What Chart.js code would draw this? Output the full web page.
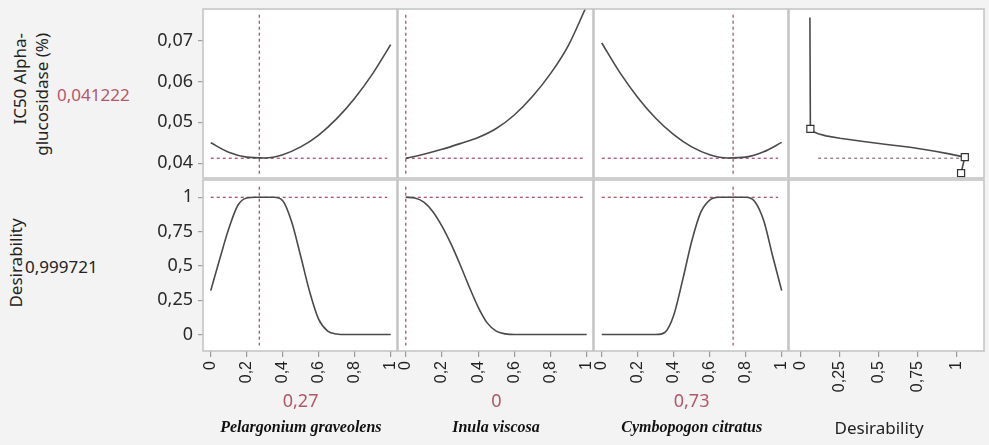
<!DOCTYPE html>
<html>
<head>
<meta charset="utf-8">
<script src="https://cdn.jsdelivr.net/npm/chart.js@4.4.0/dist/chart.umd.min.js"></script>
<style>
    html, body { margin: 0; padding: 0; }
    body {
        width: 989px; height: 445px; position: relative; overflow: hidden;
        background: #f3f3f3; font-family: 'Noto Sans', 'Open Sans', sans-serif; color: #222;
    }
    canvas { position: absolute; }
    .lbl { position: absolute; white-space: nowrap; }
    .rot { transform: rotate(-90deg); transform-origin: 50% 50%; }
    .val { color: #b3576a; }
    .factor { font-family: 'Liberation Serif', serif; font-weight: bold; font-style: italic; font-size: 16px; color: #111; }
</style>
</head>
<body>

<div class="lbl rot" style="left:-39px; top:81px; width:140px; height:44px; line-height:22px; font-size:17px; text-align:right;">IC50 Alpha-<br>glucosidase (%)</div>
<div class="lbl val" style="left:57px; top:83px; line-height:24px; font-size:17px;" id="pred-label"></div>
<div class="lbl rot" style="left:-44px; top:252px; width:120px; height:22px; line-height:22px; font-size:17px; text-align:center;">Desirability</div>
<div class="lbl" style="left:25px; top:255px; line-height:24px; font-size:17px;" id="des-label"></div>

<script>
// Сетки значений факторов (ось X профилей)
const factorGrid = [0, 0.1, 0.2, 0.3, 0.4, 0.5, 0.6, 0.7, 0.8, 0.9, 1];
const factorGridFine = [0, 0.05, 0.1, 0.15, 0.2, 0.25, 0.3, 0.35, 0.4, 0.45, 0.5,
                        0.55, 0.6, 0.65, 0.7, 0.75, 0.8, 0.85, 0.9, 0.95, 1];

// Профили отклика IC50 Alpha-glucosidase (%)
const ic50Pelargonium = [0.0450, 0.0427, 0.0415, 0.0413, 0.0421, 0.0440, 0.0469, 0.0509, 0.0559, 0.0619, 0.0690];
const ic50Inula       = [0.0412, 0.0422, 0.0434, 0.0448, 0.0463, 0.0485, 0.0518, 0.0563, 0.0619, 0.0689, 0.0785];
const ic50Cymbopogon  = [0.0694, 0.0622, 0.0561, 0.0510, 0.0470, 0.0440, 0.0421, 0.0413, 0.0415, 0.0428, 0.0451];

// Профили желательности
const desPelargonium = [0.32, 0.55, 0.77, 0.94, 0.995, 1, 1, 1, 0.975, 0.82, 0.57,
                        0.31, 0.11, 0.025, 0.004, 0, 0, 0, 0, 0, 0];
const desInula       = [1, 0.995, 0.965, 0.895, 0.79, 0.66, 0.51, 0.35, 0.2, 0.085, 0.025,
                        0.005, 0, 0, 0, 0, 0, 0, 0, 0, 0];
const desCymbopogon  = [0, 0, 0, 0, 0, 0, 0, 0.015, 0.14, 0.40, 0.68,
                        0.89, 0.98, 1, 1, 1, 1, 0.97, 0.83, 0.57, 0.32];

// Функция желательности (желательность -> IC50)
const desCurveD  = [0.057, 0.06, 0.08, 0.11, 0.16, 0.25, 0.40, 0.55, 0.70, 0.85, 0.95, 1.05, 1.026];
const desCurveIC = [0.0756, 0.0484, 0.0477, 0.0472, 0.0467, 0.0461, 0.0453, 0.0446, 0.0439, 0.0430, 0.0423, 0.0415, 0.0376];
const desPointsD  = [0.06, 1.05, 1.026];
const desPointsIC = [0.0484, 0.0415, 0.0376];

// Текущие настройки факторов и прогнозы
const factorNames = ['Pelargonium graveolens', 'Inula viscosa', 'Cymbopogon citratus'];
const factorSettings = [0.27, 0, 0.73];
const predictedIC50 = 0.041222;
const desirabilityValue = 0.999721;

// Метки осей
const ic50Ticks = [0.04, 0.045, 0.05, 0.055, 0.06, 0.065, 0.07, 0.075];
const desTicks = [0, 0.25, 0.5, 0.75, 1];
const factorTicks = [0, 0.2, 0.4, 0.6, 0.8, 1];

// Диапазоны осей
const ic50Range = [0.0364, 0.0777];
const desRange = [-0.12, 1.126];
const factorRange = [-0.043, 1.035];
const desAxisRange = [-0.077, 1.173];

// Геометрия панелей
const PAD = 20;
const Y_AXIS_W = 60;
const X_AXIS_H = 52;
const columns = [
    { left: 203, width: 194 },
    { left: 398, width: 195 },
    { left: 594, width: 194 },
    { left: 789, width: 195 }
];
const rows = [{ top: 9, height: 169 }, { top: 180, height: 171 }];

const CURVE = '#4a4a4a';
const REF = '#a8566b';

function fmt(v) {
    return String(Math.round(v * 1000) / 1000).replace('.', ',');
}

function pts(xs, ys) {
    return xs.map((x, i) => ({ x: x, y: ys[i] }));
}

// Белый фон и рамка панели
const panelFrame = {
    id: 'panelFrame',
    beforeDraw(chart) {
        const a = chart.chartArea, ctx = chart.ctx;
        ctx.save();
        ctx.fillStyle = '#ffffff';
        ctx.fillRect(a.left, a.top, a.width, a.height);
        ctx.restore();
    },
    afterDraw(chart) {
        const a = chart.chartArea, ctx = chart.ctx;
        ctx.save();
        ctx.strokeStyle = '#c2c2c2';
        ctx.lineWidth = 1.5;
        ctx.strokeRect(a.left, a.top, a.width, a.height);
        ctx.restore();
    }
};

function curveSet(xs, ys) {
    return {
        data: pts(xs, ys), borderColor: CURVE, borderWidth: 1.6, pointRadius: 0,
        cubicInterpolationMode: 'monotone', fill: false, clip: 0
    };
}

function refSet(xs, ys, color) {
    return {
        data: pts(xs, ys), borderColor: color || REF, borderWidth: 1.3, borderDash: [3, 3],
        pointRadius: 0, tension: 0, fill: false, clip: 0
    };
}

function makePanel(c, r, cfg) {
    const col = columns[c], row = rows[r];
    const leftExtra = cfg.yTicks ? Y_AXIS_W : PAD;
    const bottomExtra = cfg.xTicks ? X_AXIS_H : PAD;
    const w = leftExtra + col.width + PAD;
    const h = PAD + row.height + bottomExtra;
    const canvas = document.createElement('canvas');
    canvas.width = w;
    canvas.height = h;
    canvas.style.left = (col.left - leftExtra) + 'px';
    canvas.style.top = (row.top - PAD) + 'px';
    canvas.style.width = w + 'px';
    canvas.style.height = h + 'px';
    document.body.appendChild(canvas);

    return new Chart(canvas, {
        type: 'line',
        data: { datasets: cfg.datasets },
        options: {
            responsive: false,
            animation: false,
            layout: {
                padding: { left: cfg.yTicks ? 0 : PAD, top: PAD, right: PAD, bottom: cfg.xTicks ? 0 : PAD }
            },
            plugins: { legend: { display: false }, tooltip: { enabled: false } },
            scales: {
                x: {
                    type: 'linear',
                    min: cfg.xRange[0], max: cfg.xRange[1],
                    display: !!cfg.xTicks,
                    afterFit: s => { s.height = cfg.xTicks ? X_AXIS_H : 0; },
                    afterBuildTicks: s => { if (cfg.xTicks) s.ticks = cfg.xTicks.map(v => ({ value: v })); },
                    border: { display: false },
                    grid: { drawOnChartArea: false, drawTicks: true, tickLength: 6, tickColor: '#9a9a9a', lineWidth: 1.2 },
                    ticks: {
                        autoSkip: false, minRotation: 90, maxRotation: 90, padding: 4,
                        color: '#222', font: { family: 'Liberation Sans', size: 16 },
                        callback: v => fmt(v)
                    }
                },
                y: {
                    type: 'linear',
                    min: cfg.yRange[0], max: cfg.yRange[1],
                    display: !!cfg.yTicks,
                    afterFit: s => { s.width = cfg.yTicks ? Y_AXIS_W : 0; },
                    afterBuildTicks: s => { if (cfg.yTicks) s.ticks = cfg.yTicks.map(v => ({ value: v })); },
                    border: { display: false },
                    grid: { drawOnChartArea: false, drawTicks: true, tickLength: 5, tickColor: '#a0a0a0', lineWidth: 1.2 },
                    ticks: {
                        padding: 5, color: '#2a2a2a', font: { family: 'Noto Sans', size: 18 },
                        callback: v => (cfg.majorOnly && !cfg.majorOnly(v)) ? '' : fmt(v)
                    }
                }
            }
        },
        plugins: [panelFrame]
    });
}

const isMajorIC = v => Math.abs(v * 100 - Math.round(v * 100)) < 1e-6;
const ic50Profiles = [ic50Pelargonium, ic50Inula, ic50Cymbopogon];
const desProfiles = [desPelargonium, desInula, desCymbopogon];
const bottomCharts = [];

for (let i = 0; i < 3; i++) {
    const s = factorSettings[i];
    // Верхний ряд: IC50
    makePanel(i, 0, {
        xRange: factorRange, yRange: ic50Range,
        yTicks: i === 0 ? ic50Ticks : null, majorOnly: isMajorIC,
        datasets: [
            curveSet(factorGrid, ic50Profiles[i]),
            refSet([0, 0.98], [predictedIC50, predictedIC50]),
            refSet([s, s], [0.0763, 0.0371])
        ]
    });
    // Нижний ряд: желательность
    bottomCharts.push(makePanel(i, 1, {
        xRange: factorRange, yRange: desRange,
        xTicks: factorTicks, yTicks: i === 0 ? desTicks : null,
        datasets: [
            curveSet(factorGridFine, desProfiles[i]),
            refSet([0, 0.98], [desirabilityValue, desirabilityValue]),
            refSet([s, s], [1.077, -0.08])
        ]
    }));
}

// Панель функции желательности
makePanel(3, 0, {
    xRange: desAxisRange, yRange: ic50Range,
    datasets: [
        {
            data: pts(desPointsD, desPointsIC), showLine: false, pointStyle: 'rect', pointRadius: 5,
            pointBackgroundColor: '#ffffff', pointBorderColor: '#333333', pointBorderWidth: 1.2, clip: 0
        },
        {
            data: pts(desCurveD, desCurveIC), borderColor: CURVE, borderWidth: 1.6, pointRadius: 0,
            tension: 0, fill: false, clip: 0
        },
        refSet([0.11, 1.05], [predictedIC50, predictedIC50], '#8e7d82')
    ]
});
bottomCharts.push(makePanel(3, 1, {
    xRange: desAxisRange, yRange: desRange, xTicks: desTicks, datasets: []
}));

// Подписи значений и факторов под осями
document.getElementById('pred-label').textContent = String(predictedIC50).replace('.', ',');
document.getElementById('des-label').textContent = String(desirabilityValue).replace('.', ',');

bottomCharts.forEach((chart, i) => {
    const cx = parseFloat(chart.canvas.style.left) + chart.scales.x.getPixelForValue(0.5);
    if (i < 3) {
        const v = document.createElement('div');
        v.className = 'lbl val';
        v.style.fontSize = '18px';
        v.style.top = '388px';
        v.textContent = fmt(factorSettings[i]);
        document.body.appendChild(v);
        v.style.left = (cx - v.offsetWidth / 2) + 'px';
    }
    const n = document.createElement('div');
    n.className = i < 3 ? 'lbl factor' : 'lbl';
    if (i === 3) n.style.fontSize = '17px';
    n.style.top = i < 3 ? '418px' : '416px';
    n.textContent = i < 3 ? factorNames[i] : 'Desirability';
    document.body.appendChild(n);
    n.style.left = (cx - n.offsetWidth / 2) + 'px';
});
</script>
</body>
</html>
